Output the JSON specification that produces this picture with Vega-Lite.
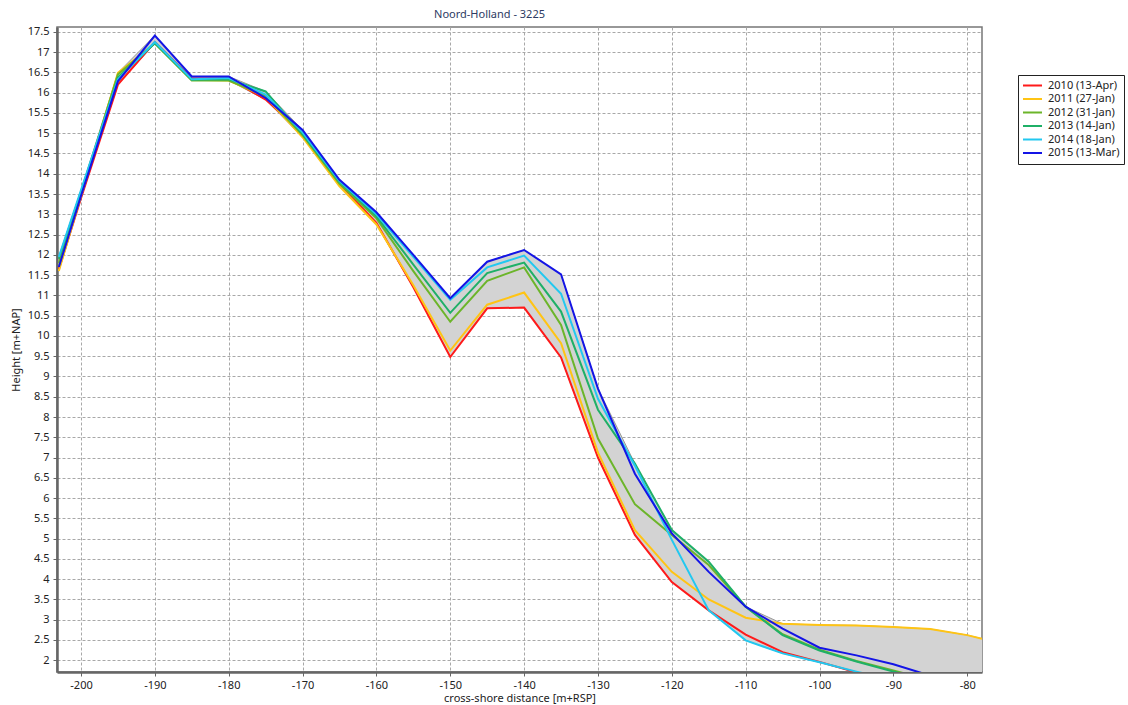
{
  "$schema": "https://vega.github.io/schema/vega-lite/v6.json",
  "width": 925,
  "height": 645,
  "autosize": {"type": "none"},
  "padding": {"left": 57, "top": 27, "right": 146, "bottom": 33},
  "background": "white",
  "title": {"text": "Noord-Holland - 3225", "fontSize": 11, "font": "Noto Sans", "fontWeight": "normal", "color": "#2e3b63", "offset": 6, "dx": -30},
  "config": {
    "view": {"stroke": "#777777", "strokeWidth": 1.5},
    "axis": {
      "labelFont": "Noto Sans", "labelFontSize": 11, "labelColor": "#222222",
      "titleFont": "Noto Sans", "titleFontSize": 11, "titleFontWeight": "normal", "titleColor": "#222222",
      "domainColor": "#666666", "domainWidth": 2.5,
      "tickColor": "#666666", "tickSize": 4,
      "gridColor": "#a8a8a8", "gridDash": [3, 2], "gridWidth": 1,
      "labelOverlap": false, "labelFlush": false
    },
    "legend": {"labelFont": "Noto Sans", "labelFontSize": 11, "labelColor": "#222222"}
  },
  "data": {"values": [
    {"survey": "2010 (13-Apr)", "distance": -203, "height": 11.65},
    {"survey": "2010 (13-Apr)", "distance": -200, "height": 13.4},
    {"survey": "2010 (13-Apr)", "distance": -195, "height": 16.2},
    {"survey": "2010 (13-Apr)", "distance": -190, "height": 17.25},
    {"survey": "2010 (13-Apr)", "distance": -185, "height": 16.35},
    {"survey": "2010 (13-Apr)", "distance": -180, "height": 16.35},
    {"survey": "2010 (13-Apr)", "distance": -175, "height": 15.83},
    {"survey": "2010 (13-Apr)", "distance": -170, "height": 15.0},
    {"survey": "2010 (13-Apr)", "distance": -165, "height": 13.75},
    {"survey": "2010 (13-Apr)", "distance": -160, "height": 12.79},
    {"survey": "2010 (13-Apr)", "distance": -155, "height": 11.2},
    {"survey": "2010 (13-Apr)", "distance": -150, "height": 9.48},
    {"survey": "2010 (13-Apr)", "distance": -145, "height": 10.68},
    {"survey": "2010 (13-Apr)", "distance": -140, "height": 10.7},
    {"survey": "2010 (13-Apr)", "distance": -135, "height": 9.47},
    {"survey": "2010 (13-Apr)", "distance": -130, "height": 7.0},
    {"survey": "2010 (13-Apr)", "distance": -125, "height": 5.09},
    {"survey": "2010 (13-Apr)", "distance": -120, "height": 3.93},
    {"survey": "2010 (13-Apr)", "distance": -115, "height": 3.23},
    {"survey": "2010 (13-Apr)", "distance": -110, "height": 2.63},
    {"survey": "2010 (13-Apr)", "distance": -105, "height": 2.2},
    {"survey": "2010 (13-Apr)", "distance": -100, "height": 1.96},
    {"survey": "2010 (13-Apr)", "distance": -95, "height": 1.7},
    {"survey": "2010 (13-Apr)", "distance": -90, "height": 1.45},
    {"survey": "2010 (13-Apr)", "distance": -85, "height": 1.2},
    {"survey": "2010 (13-Apr)", "distance": -80, "height": 1.0},
    {"survey": "2010 (13-Apr)", "distance": -75, "height": 0.8},

    {"survey": "2011 (27-Jan)", "distance": -203, "height": 11.6},
    {"survey": "2011 (27-Jan)", "distance": -200, "height": 13.45},
    {"survey": "2011 (27-Jan)", "distance": -195, "height": 16.49},
    {"survey": "2011 (27-Jan)", "distance": -190, "height": 17.22},
    {"survey": "2011 (27-Jan)", "distance": -185, "height": 16.32},
    {"survey": "2011 (27-Jan)", "distance": -180, "height": 16.3},
    {"survey": "2011 (27-Jan)", "distance": -175, "height": 15.9},
    {"survey": "2011 (27-Jan)", "distance": -170, "height": 14.9},
    {"survey": "2011 (27-Jan)", "distance": -165, "height": 13.69},
    {"survey": "2011 (27-Jan)", "distance": -160, "height": 12.75},
    {"survey": "2011 (27-Jan)", "distance": -155, "height": 11.25},
    {"survey": "2011 (27-Jan)", "distance": -150, "height": 9.64},
    {"survey": "2011 (27-Jan)", "distance": -145, "height": 10.77},
    {"survey": "2011 (27-Jan)", "distance": -140, "height": 11.07},
    {"survey": "2011 (27-Jan)", "distance": -135, "height": 9.82},
    {"survey": "2011 (27-Jan)", "distance": -130, "height": 7.12},
    {"survey": "2011 (27-Jan)", "distance": -125, "height": 5.21},
    {"survey": "2011 (27-Jan)", "distance": -120, "height": 4.18},
    {"survey": "2011 (27-Jan)", "distance": -115, "height": 3.5},
    {"survey": "2011 (27-Jan)", "distance": -110, "height": 3.05},
    {"survey": "2011 (27-Jan)", "distance": -105, "height": 2.9},
    {"survey": "2011 (27-Jan)", "distance": -100, "height": 2.87},
    {"survey": "2011 (27-Jan)", "distance": -95, "height": 2.86},
    {"survey": "2011 (27-Jan)", "distance": -90, "height": 2.82},
    {"survey": "2011 (27-Jan)", "distance": -85, "height": 2.77},
    {"survey": "2011 (27-Jan)", "distance": -80, "height": 2.62},
    {"survey": "2011 (27-Jan)", "distance": -75, "height": 2.4},

    {"survey": "2012 (31-Jan)", "distance": -203, "height": 11.8},
    {"survey": "2012 (31-Jan)", "distance": -200, "height": 13.5},
    {"survey": "2012 (31-Jan)", "distance": -195, "height": 16.45},
    {"survey": "2012 (31-Jan)", "distance": -190, "height": 17.22},
    {"survey": "2012 (31-Jan)", "distance": -185, "height": 16.3},
    {"survey": "2012 (31-Jan)", "distance": -180, "height": 16.3},
    {"survey": "2012 (31-Jan)", "distance": -175, "height": 15.92},
    {"survey": "2012 (31-Jan)", "distance": -170, "height": 14.95},
    {"survey": "2012 (31-Jan)", "distance": -165, "height": 13.75},
    {"survey": "2012 (31-Jan)", "distance": -160, "height": 12.9},
    {"survey": "2012 (31-Jan)", "distance": -155, "height": 11.6},
    {"survey": "2012 (31-Jan)", "distance": -150, "height": 10.35},
    {"survey": "2012 (31-Jan)", "distance": -145, "height": 11.36},
    {"survey": "2012 (31-Jan)", "distance": -140, "height": 11.69},
    {"survey": "2012 (31-Jan)", "distance": -135, "height": 10.27},
    {"survey": "2012 (31-Jan)", "distance": -130, "height": 7.47},
    {"survey": "2012 (31-Jan)", "distance": -125, "height": 5.85},
    {"survey": "2012 (31-Jan)", "distance": -120, "height": 5.09},
    {"survey": "2012 (31-Jan)", "distance": -115, "height": 4.35},
    {"survey": "2012 (31-Jan)", "distance": -110, "height": 3.32},
    {"survey": "2012 (31-Jan)", "distance": -105, "height": 2.64},
    {"survey": "2012 (31-Jan)", "distance": -100, "height": 2.26},
    {"survey": "2012 (31-Jan)", "distance": -95, "height": 1.98},
    {"survey": "2012 (31-Jan)", "distance": -90, "height": 1.75},
    {"survey": "2012 (31-Jan)", "distance": -85, "height": 1.5},
    {"survey": "2012 (31-Jan)", "distance": -80, "height": 1.3},
    {"survey": "2012 (31-Jan)", "distance": -75, "height": 1.1},

    {"survey": "2013 (14-Jan)", "distance": -203, "height": 11.9},
    {"survey": "2013 (14-Jan)", "distance": -200, "height": 13.55},
    {"survey": "2013 (14-Jan)", "distance": -195, "height": 16.37},
    {"survey": "2013 (14-Jan)", "distance": -190, "height": 17.22},
    {"survey": "2013 (14-Jan)", "distance": -185, "height": 16.32},
    {"survey": "2013 (14-Jan)", "distance": -180, "height": 16.33},
    {"survey": "2013 (14-Jan)", "distance": -175, "height": 16.03},
    {"survey": "2013 (14-Jan)", "distance": -170, "height": 14.98},
    {"survey": "2013 (14-Jan)", "distance": -165, "height": 13.8},
    {"survey": "2013 (14-Jan)", "distance": -160, "height": 12.95},
    {"survey": "2013 (14-Jan)", "distance": -155, "height": 11.76},
    {"survey": "2013 (14-Jan)", "distance": -150, "height": 10.57},
    {"survey": "2013 (14-Jan)", "distance": -145, "height": 11.55},
    {"survey": "2013 (14-Jan)", "distance": -140, "height": 11.81},
    {"survey": "2013 (14-Jan)", "distance": -135, "height": 10.6},
    {"survey": "2013 (14-Jan)", "distance": -130, "height": 8.18},
    {"survey": "2013 (14-Jan)", "distance": -125, "height": 6.85},
    {"survey": "2013 (14-Jan)", "distance": -120, "height": 5.21},
    {"survey": "2013 (14-Jan)", "distance": -115, "height": 4.43},
    {"survey": "2013 (14-Jan)", "distance": -110, "height": 3.32},
    {"survey": "2013 (14-Jan)", "distance": -105, "height": 2.62},
    {"survey": "2013 (14-Jan)", "distance": -100, "height": 2.24},
    {"survey": "2013 (14-Jan)", "distance": -95, "height": 1.97},
    {"survey": "2013 (14-Jan)", "distance": -90, "height": 1.72},
    {"survey": "2013 (14-Jan)", "distance": -85, "height": 1.5},
    {"survey": "2013 (14-Jan)", "distance": -80, "height": 1.3},
    {"survey": "2013 (14-Jan)", "distance": -75, "height": 1.1},

    {"survey": "2014 (18-Jan)", "distance": -203, "height": 11.95},
    {"survey": "2014 (18-Jan)", "distance": -200, "height": 13.6},
    {"survey": "2014 (18-Jan)", "distance": -195, "height": 16.33},
    {"survey": "2014 (18-Jan)", "distance": -190, "height": 17.25},
    {"survey": "2014 (18-Jan)", "distance": -185, "height": 16.33},
    {"survey": "2014 (18-Jan)", "distance": -180, "height": 16.36},
    {"survey": "2014 (18-Jan)", "distance": -175, "height": 15.95},
    {"survey": "2014 (18-Jan)", "distance": -170, "height": 15.02},
    {"survey": "2014 (18-Jan)", "distance": -165, "height": 13.82},
    {"survey": "2014 (18-Jan)", "distance": -160, "height": 13.0},
    {"survey": "2014 (18-Jan)", "distance": -155, "height": 11.95},
    {"survey": "2014 (18-Jan)", "distance": -150, "height": 10.89},
    {"survey": "2014 (18-Jan)", "distance": -145, "height": 11.69},
    {"survey": "2014 (18-Jan)", "distance": -140, "height": 11.98},
    {"survey": "2014 (18-Jan)", "distance": -135, "height": 11.04},
    {"survey": "2014 (18-Jan)", "distance": -130, "height": 8.45},
    {"survey": "2014 (18-Jan)", "distance": -125, "height": 6.8},
    {"survey": "2014 (18-Jan)", "distance": -120, "height": 4.97},
    {"survey": "2014 (18-Jan)", "distance": -115, "height": 3.23},
    {"survey": "2014 (18-Jan)", "distance": -110, "height": 2.49},
    {"survey": "2014 (18-Jan)", "distance": -105, "height": 2.17},
    {"survey": "2014 (18-Jan)", "distance": -100, "height": 1.95},
    {"survey": "2014 (18-Jan)", "distance": -95, "height": 1.72},
    {"survey": "2014 (18-Jan)", "distance": -90, "height": 1.5},
    {"survey": "2014 (18-Jan)", "distance": -85, "height": 1.3},
    {"survey": "2014 (18-Jan)", "distance": -80, "height": 1.1},
    {"survey": "2014 (18-Jan)", "distance": -75, "height": 0.9},

    {"survey": "2015 (13-Mar)", "distance": -203, "height": 11.7},
    {"survey": "2015 (13-Mar)", "distance": -200, "height": 13.45},
    {"survey": "2015 (13-Mar)", "distance": -195, "height": 16.28},
    {"survey": "2015 (13-Mar)", "distance": -190, "height": 17.41},
    {"survey": "2015 (13-Mar)", "distance": -185, "height": 16.4},
    {"survey": "2015 (13-Mar)", "distance": -180, "height": 16.4},
    {"survey": "2015 (13-Mar)", "distance": -175, "height": 15.87},
    {"survey": "2015 (13-Mar)", "distance": -170, "height": 15.08},
    {"survey": "2015 (13-Mar)", "distance": -165, "height": 13.85},
    {"survey": "2015 (13-Mar)", "distance": -160, "height": 13.05},
    {"survey": "2015 (13-Mar)", "distance": -155, "height": 12.0},
    {"survey": "2015 (13-Mar)", "distance": -150, "height": 10.93},
    {"survey": "2015 (13-Mar)", "distance": -145, "height": 11.83},
    {"survey": "2015 (13-Mar)", "distance": -140, "height": 12.12},
    {"survey": "2015 (13-Mar)", "distance": -135, "height": 11.52},
    {"survey": "2015 (13-Mar)", "distance": -130, "height": 8.7},
    {"survey": "2015 (13-Mar)", "distance": -125, "height": 6.6},
    {"survey": "2015 (13-Mar)", "distance": -120, "height": 5.13},
    {"survey": "2015 (13-Mar)", "distance": -115, "height": 4.18},
    {"survey": "2015 (13-Mar)", "distance": -110, "height": 3.32},
    {"survey": "2015 (13-Mar)", "distance": -105, "height": 2.78},
    {"survey": "2015 (13-Mar)", "distance": -100, "height": 2.31},
    {"survey": "2015 (13-Mar)", "distance": -95, "height": 2.12},
    {"survey": "2015 (13-Mar)", "distance": -90, "height": 1.9},
    {"survey": "2015 (13-Mar)", "distance": -85, "height": 1.62},
    {"survey": "2015 (13-Mar)", "distance": -80, "height": 1.4},
    {"survey": "2015 (13-Mar)", "distance": -75, "height": 1.2}
  ]},
  "layer": [
    {
      "transform": [
        {"aggregate": [{"op": "min", "field": "height", "as": "lo"}, {"op": "max", "field": "height", "as": "hi"}], "groupby": ["distance"]}
      ],
      "mark": {"type": "area", "clip": true, "color": "#d3d3d3", "stroke": "#999999", "strokeWidth": 1, "opacity": 1},
      "encoding": {
        "x": {
          "field": "distance", "type": "quantitative",
          "scale": {"domain": [-203.25, -78], "nice": false, "zero": false},
          "axis": {
            "title": "cross-shore distance [m+RSP]",
            "values": [-200, -190, -180, -170, -160, -150, -140, -130, -120, -110, -100, -90, -80],
            "labelExpr": "'' + datum.value",
            "labelPadding": 3, "titlePadding": 2, "grid": true
          }
        },
        "y": {
          "field": "lo", "type": "quantitative",
          "scale": {"domain": [1.71, 17.62], "nice": false, "zero": false},
          "axis": {
            "title": "Height [m+NAP]",
            "values": [2, 2.5, 3, 3.5, 4, 4.5, 5, 5.5, 6, 6.5, 7, 7.5, 8, 8.5, 9, 9.5, 10, 10.5, 11, 11.5, 12, 12.5, 13, 13.5, 14, 14.5, 15, 15.5, 16, 16.5, 17, 17.5],
            "labelExpr": "'' + datum.value",
            "labelPadding": 4, "titlePadding": 6, "grid": true
          }
        },
        "y2": {"field": "hi"}
      }
    },
    {
      "mark": {"type": "line", "clip": true, "strokeWidth": 2},
      "encoding": {
        "x": {
          "field": "distance", "type": "quantitative",
          "scale": {"domain": [-203.25, -78], "nice": false, "zero": false},
          "axis": {
            "title": "cross-shore distance [m+RSP]",
            "values": [-200, -190, -180, -170, -160, -150, -140, -130, -120, -110, -100, -90, -80],
            "labelExpr": "'' + datum.value",
            "labelPadding": 3, "titlePadding": 2, "grid": true
          }
        },
        "y": {
          "field": "height", "type": "quantitative",
          "scale": {"domain": [1.71, 17.62], "nice": false, "zero": false},
          "axis": {
            "title": "Height [m+NAP]",
            "values": [2, 2.5, 3, 3.5, 4, 4.5, 5, 5.5, 6, 6.5, 7, 7.5, 8, 8.5, 9, 9.5, 10, 10.5, 11, 11.5, 12, 12.5, 13, 13.5, 14, 14.5, 15, 15.5, 16, 16.5, 17, 17.5],
            "labelExpr": "'' + datum.value",
            "labelPadding": 4, "titlePadding": 6, "grid": true
          }
        },
        "color": {
          "field": "survey", "type": "nominal",
          "scale": {
            "domain": ["2010 (13-Apr)", "2011 (27-Jan)", "2012 (31-Jan)", "2013 (14-Jan)", "2014 (18-Jan)", "2015 (13-Mar)"],
            "range": ["#ff1a1a", "#ffc414", "#6cb52a", "#1fb067", "#22c8f0", "#1414e6"]
          },
          "legend": {
            "title": null, "orient": "none", "legendX": 961, "legendY": 48,
            "symbolType": "stroke", "symbolSize": 361, "symbolStrokeWidth": 2,
            "clipHeight": 13, "rowPadding": 0.5, "labelOffset": 5, "padding": 4,
            "strokeColor": "#222222", "fillColor": "white"
          }
        }
      }
    }
  ]
}
